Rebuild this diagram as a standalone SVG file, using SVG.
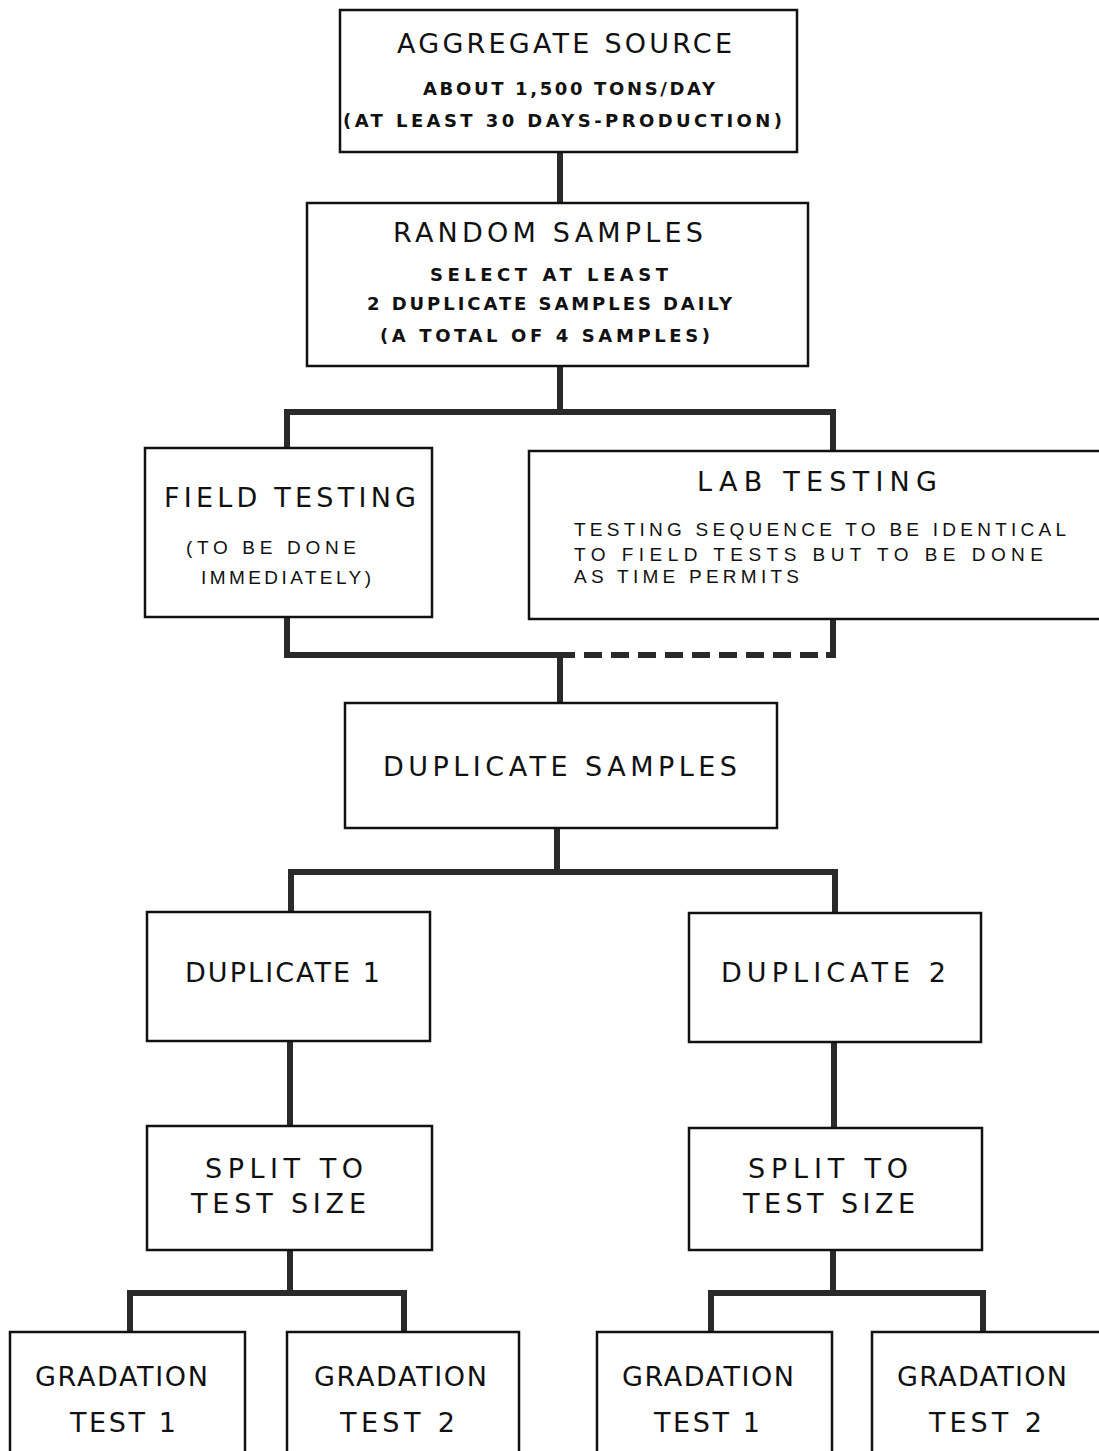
<svg xmlns="http://www.w3.org/2000/svg" width="1099" height="1451" viewBox="0 0 1099 1451">
<style>
.box{fill:#fff;stroke:#111;stroke-width:2.5}
.c{fill:none;stroke:#2a2a2a;stroke-width:6;stroke-linejoin:miter}
.d{fill:none;stroke:#2a2a2a;stroke-width:6;stroke-dasharray:18 9}
text{font-family:"Liberation Sans",Arial,sans-serif;fill:#111}
.t{font-family:"DejaVu Sans","Liberation Sans",sans-serif;font-size:27px}
.s{font-family:"DejaVu Sans","Liberation Sans",sans-serif;font-size:18px;font-weight:bold}
.m{font-size:19px}
</style>
<rect width="1099" height="1451" fill="#fff"/>
<g id="connectors">
<path class="c" d="M560 152V203"/>
<path class="c" d="M560 366V412M287 448V412H833V451"/>
<path class="c" d="M287 617V655H575M833 619V655H826"/>
<path class="d" d="M584 655H826"/>
<path class="c" d="M560 655V703"/>
<path class="c" d="M557 828V872M291 912V872H835V913"/>
<path class="c" d="M290 1041V1126M834 1042V1128"/>
<path class="c" d="M290 1250V1293M130 1332V1293H404V1332"/>
<path class="c" d="M833 1250V1293M711 1332V1293H983V1332"/>
</g>
<g id="aggregate-source">
<rect class="box" x="340" y="10" width="457" height="142"/>
<text class="t" x="397" y="53" textLength="335" lengthAdjust="spacing">AGGREGATE SOURCE</text>
<text class="s" x="423" y="95" textLength="292" lengthAdjust="spacing">ABOUT 1,500 TONS/DAY</text>
<text class="s" x="343" y="127" textLength="439" lengthAdjust="spacing">(AT LEAST 30 DAYS-PRODUCTION)</text>
</g>
<g id="random-samples">
<rect class="box" x="307" y="203" width="501" height="163"/>
<text class="t" x="393" y="242" textLength="310" lengthAdjust="spacing">RANDOM SAMPLES</text>
<text class="s" x="430" y="281" textLength="238" lengthAdjust="spacing">SELECT AT LEAST</text>
<text class="s" x="367" y="310" textLength="365" lengthAdjust="spacing">2 DUPLICATE SAMPLES DAILY</text>
<text class="s" x="380" y="342" textLength="330" lengthAdjust="spacing">(A TOTAL OF 4 SAMPLES)</text>
</g>
<g id="field-testing">
<rect class="box" x="145" y="448" width="287" height="169"/>
<text class="t" x="164" y="507" textLength="252" lengthAdjust="spacing">FIELD TESTING</text>
<text class="m" x="186" y="554" textLength="170" lengthAdjust="spacing">(TO BE DONE</text>
<text class="m" x="201" y="584" textLength="170" lengthAdjust="spacing">IMMEDIATELY)</text>
</g>
<g id="lab-testing">
<rect class="box" x="529" y="451" width="580" height="168"/>
<text class="t" x="697" y="491" textLength="240" lengthAdjust="spacing">LAB TESTING</text>
<text class="m" x="574" y="536" textLength="492" lengthAdjust="spacing">TESTING SEQUENCE TO BE IDENTICAL</text>
<text class="m" x="574" y="561" textLength="469" lengthAdjust="spacing">TO FIELD TESTS BUT TO BE DONE</text>
<text class="m" x="574" y="583" textLength="225" lengthAdjust="spacing">AS TIME PERMITS</text>
</g>
<g id="duplicate-samples">
<rect class="box" x="345" y="703" width="432" height="125"/>
<text class="t" x="383" y="776" textLength="354" lengthAdjust="spacing">DUPLICATE SAMPLES</text>
</g>
<g id="duplicate-1">
<rect class="box" x="147" y="912" width="283" height="129"/>
<text class="t" x="185" y="982" textLength="195" lengthAdjust="spacing">DUPLICATE 1</text>
</g>
<g id="duplicate-2">
<rect class="box" x="689" y="913" width="292" height="129"/>
<text class="t" x="721" y="982" textLength="225" lengthAdjust="spacing">DUPLICATE 2</text>
</g>
<g id="split-1">
<rect class="box" x="147" y="1126" width="285" height="124"/>
<text class="t" x="205" y="1178" textLength="158" lengthAdjust="spacing">SPLIT TO</text>
<text class="t" x="191" y="1213" textLength="175" lengthAdjust="spacing">TEST SIZE</text>
</g>
<g id="split-2">
<rect class="box" x="689" y="1128" width="293" height="122"/>
<text class="t" x="748" y="1178" textLength="160" lengthAdjust="spacing">SPLIT TO</text>
<text class="t" x="743" y="1213" textLength="172" lengthAdjust="spacing">TEST SIZE</text>
</g>
<g id="gradation-1a">
<rect class="box" x="10" y="1332" width="235" height="130"/>
<text class="t" x="35" y="1386" textLength="173" lengthAdjust="spacing">GRADATION</text>
<text class="t" x="70" y="1432" textLength="106" lengthAdjust="spacing">TEST 1</text>
</g>
<g id="gradation-2a">
<rect class="box" x="287" y="1332" width="232" height="130"/>
<text class="t" x="314" y="1386" textLength="173" lengthAdjust="spacing">GRADATION</text>
<text class="t" x="340" y="1432" textLength="115" lengthAdjust="spacing">TEST 2</text>
</g>
<g id="gradation-1b">
<rect class="box" x="597" y="1332" width="235" height="130"/>
<text class="t" x="622" y="1386" textLength="172" lengthAdjust="spacing">GRADATION</text>
<text class="t" x="654" y="1432" textLength="106" lengthAdjust="spacing">TEST 1</text>
</g>
<g id="gradation-2b">
<rect class="box" x="872" y="1332" width="240" height="130"/>
<text class="t" x="897" y="1386" textLength="170" lengthAdjust="spacing">GRADATION</text>
<text class="t" x="929" y="1432" textLength="113" lengthAdjust="spacing">TEST 2</text>
</g>
</svg>
